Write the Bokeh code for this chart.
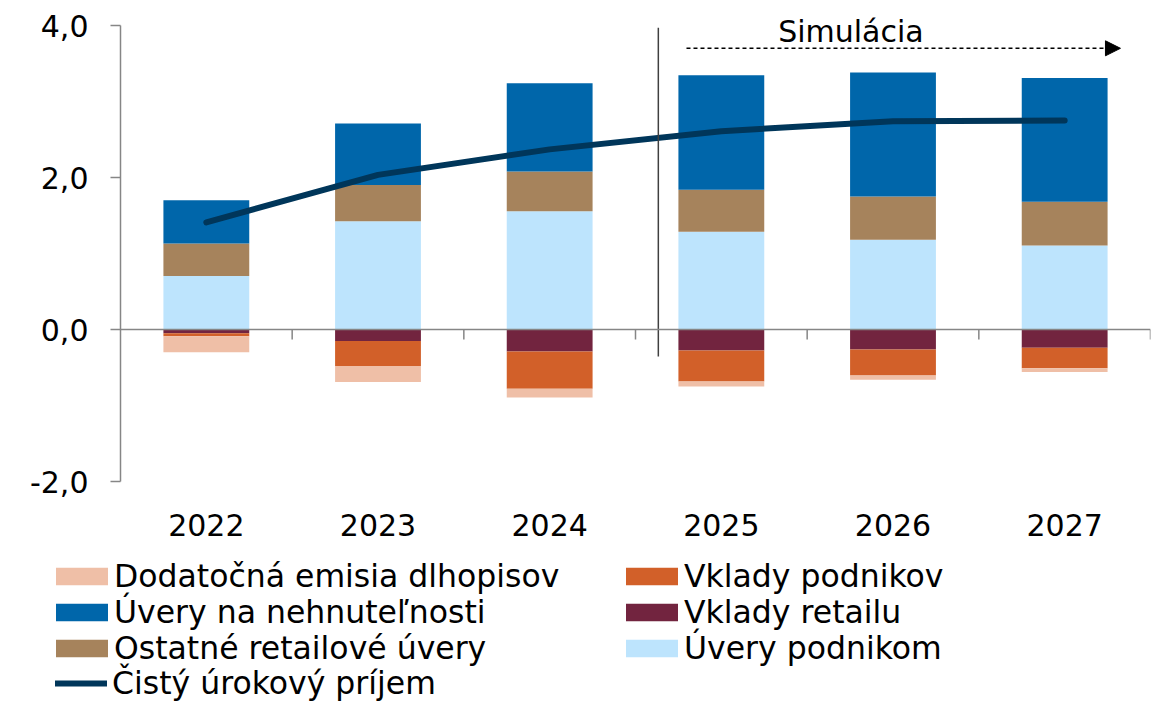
from bokeh.plotting import figure
from bokeh.layouts import column
from bokeh.models import (ColumnDataSource, FixedTicker, Span, Legend, LegendItem,
                          Arrow, NormalHead, Range1d)
from bokeh.core.properties import value
from bokeh.embed import file_html
from bokeh.resources import INLINE

# ---- data ----
years = ["2022", "2023", "2024", "2025", "2026", "2027"]
uvery_podnikom = [0.705, 1.425, 1.555, 1.285, 1.18, 1.105]
ostatne_retailove_uvery = [0.425, 0.475, 0.525, 0.555, 0.57, 0.575]
uvery_na_nehnutelnosti = [0.57, 0.81, 1.16, 1.505, 1.63, 1.63]
vklady_retailu = [-0.048, -0.15, -0.29, -0.276, -0.263, -0.24]
vklady_podnikov = [-0.042, -0.33, -0.49, -0.408, -0.342, -0.27]
dodatocna_emisia = [-0.21, -0.21, -0.115, -0.066, -0.055, -0.05]
cisty_urokovy_prijem = [1.41, 2.035, 2.37, 2.61, 2.74, 2.75]
y_ticks = [-2, 0, 2, 4]
y_tick_labels = ["-2,0", "0,0", "2,0", "4,0"]
simulation_label = "Simulácia"

FONT = "DejaVu Sans"
C_PINK = "#EFBFA7"
C_ORANGE = "#D26029"
C_DRED = "#72243F"
C_BLUE = "#0066AA"
C_BROWN = "#A6835C"
C_LBLUE = "#BDE4FD"
C_LINE = "#00365A"
C_AXIS = "#868686"

xs = list(range(len(years)))
src = ColumnDataSource(dict(
    x=xs, lb=uvery_podnikom, br=ostatne_retailove_uvery, bl=uvery_na_nehnutelnosti,
    vr=vklady_retailu, vp=vklady_podnikov, de=dodatocna_emisia, nii=cisty_urokovy_prijem,
))

p = figure(width=1158, height=545,
           x_range=Range1d(-0.5, len(years) - 0.5), y_range=Range1d(-2, 4.329),
           output_backend="svg", toolbar_location=None,
           min_border_left=120, min_border_right=8, min_border_top=0, min_border_bottom=64)
p.outline_line_color = None
p.xgrid.visible = False
p.ygrid.visible = False
p.frame_align = False

pos = p.vbar_stack(["lb", "br", "bl"], x="x", width=0.5, source=src,
                   color=[C_LBLUE, C_BROWN, C_BLUE], line_color=None)
neg = p.vbar_stack(["vr", "vp", "de"], x="x", width=0.5, source=src,
                   color=[C_DRED, C_ORANGE, C_PINK], line_color=None)

# zero line and category boundary ticks
p.add_layout(Span(location=0, dimension="width", line_color=C_AXIS, line_width=1.5))
bx = [i + 0.5 for i in xs]
p.segment(x0=bx, y0=[0] * len(bx), x1=bx, y1=[-0.13] * len(bx),
          line_color=C_AXIS, line_width=1.5)

line = p.line(x="x", y="nii", source=src, line_width=6, line_color=C_LINE,
              line_cap="round", line_join="round")

# simulation marker
SIM_X = 2.633
p.segment(x0=[SIM_X], y0=[-0.355], x1=[SIM_X], y1=[3.97], line_color="#404040", line_width=1.5)
p.add_layout(Arrow(end=NormalHead(size=15, fill_color="black", line_color="black"),
                   x_start=2.797, y_start=3.70, x_end=5.325, y_end=3.70,
                   line_dash="4 3", line_width=1.5, line_color="black"))
p.text(x=[3.755], y=[3.92], text=[simulation_label], text_font=value(FONT),
       text_font_size="30px", text_align="center", text_baseline="middle", text_color="black")

# axes
p.yaxis.bounds = (-2, 4)
p.yaxis.ticker = FixedTicker(ticks=y_ticks)
p.yaxis.major_label_overrides = dict(zip(y_ticks, y_tick_labels))
p.yaxis.axis_line_color = C_AXIS
p.yaxis.axis_line_width = 1.5
p.yaxis.major_tick_line_color = C_AXIS
p.yaxis.major_tick_line_width = 1.5
p.yaxis.major_tick_out = 10
p.yaxis.major_tick_in = 0
p.yaxis.minor_tick_line_color = None
p.yaxis.major_label_text_font = FONT
p.yaxis.major_label_text_font_size = "30px"
p.yaxis.major_label_text_color = "black"
p.yaxis.major_label_standoff = 22

p.xaxis.ticker = FixedTicker(ticks=xs)
p.xaxis.major_label_overrides = {i: y for i, y in zip(xs, years)}
p.xaxis.axis_line_color = None
p.xaxis.major_tick_line_color = None
p.xaxis.minor_tick_line_color = None
p.xaxis.major_label_text_font = FONT
p.xaxis.major_label_text_font_size = "30px"
p.xaxis.major_label_text_color = "black"
p.xaxis.major_label_standoff = 26

# ---- legend figure (below the chart) ----
LEG_H = 156
lf = figure(width=1158, height=LEG_H, x_range=Range1d(0, 1158), y_range=Range1d(0, LEG_H),
            x_axis_type=None, y_axis_type=None,
            output_backend="svg", toolbar_location=None,
            min_border_left=0, min_border_right=0, min_border_top=0, min_border_bottom=0)
lf.grid.visible = False
lf.outline_line_color = None
lf.frame_align = False

# swatch renderers for the legend, placed outside the visible range
sw = {}
for key, col in [("de", C_PINK), ("vp", C_ORANGE), ("bl", C_BLUE), ("vr", C_DRED),
                 ("br", C_BROWN), ("lb", C_LBLUE)]:
    sw[key] = lf.vbar(x=[-500], top=[-500], bottom=[-600], width=1,
                      fill_color=col, line_color=None)
sw["nii"] = lf.line(x=[-600, -500], y=[-500, -500], line_width=6, line_color=C_LINE,
                    line_cap="round")


def style(lg, gw, gh, standoff):
    lg.label_text_font = FONT
    lg.label_text_font_size = "31.5px"
    lg.label_text_color = "black"
    lg.glyph_width = gw
    lg.glyph_height = gh
    lg.label_standoff = standoff
    lg.label_height = 35
    lg.spacing = 0
    lg.padding = 0
    lg.margin = 0
    lg.border_line_color = None
    lg.background_fill_alpha = 0


left_legend = Legend(items=[
    LegendItem(label="Dodatočná emisia dlhopisov", renderers=[sw["de"]]),
    LegendItem(label="Úvery na nehnuteľnosti", renderers=[sw["bl"]]),
    LegendItem(label="Ostatné retailové úvery", renderers=[sw["br"]]),
], location=(49, 35))
line_legend = Legend(items=[
    LegendItem(label="Čistý úrokový príjem", renderers=[sw["nii"]]),
], location=(55, 0))
right_legend = Legend(items=[
    LegendItem(label="Vklady podnikov", renderers=[sw["vp"]]),
    LegendItem(label="Vklady retailu", renderers=[sw["vr"]]),
    LegendItem(label="Úvery podnikom", renderers=[sw["lb"]]),
], location=(619, 35))
style(left_legend, 65, 22, 0)
style(right_legend, 65, 22, 0)
style(line_legend, 52, 18, 5)
lf.add_layout(left_legend, "center")
lf.add_layout(line_legend, "center")
lf.add_layout(right_legend, "center")

layout = column(p, lf, spacing=0)
open("out.html", "w").write(file_html(layout, INLINE))
